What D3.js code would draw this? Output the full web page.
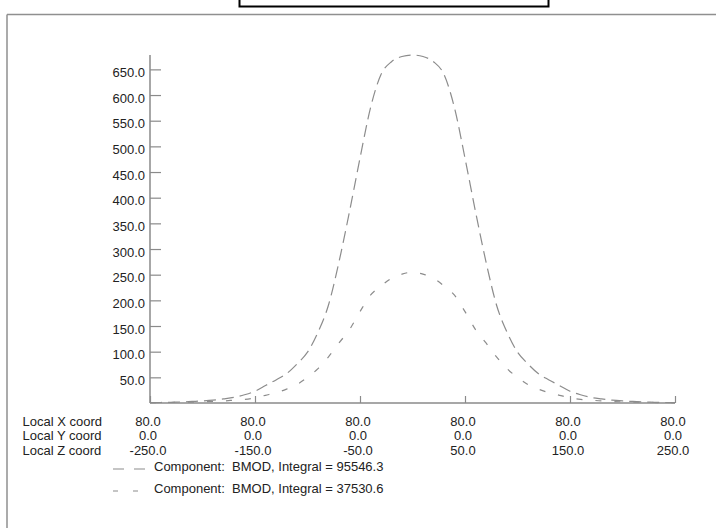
<!DOCTYPE html>
<html>
<head>
<meta charset="utf-8">
<script src="https://cdn.jsdelivr.net/npm/d3@7"></script>
<style>
  html, body { margin: 0; padding: 0; background: #fff; }
  svg { display: block; }
  text { font-family: "Liberation Sans", Arial, Helvetica, sans-serif; font-size: 13px; fill: #222; white-space: pre; }
</style>
</head>
<body>
<svg id="chart" width="716" height="528"></svg>
<script>
// ---- data ----
const zCoords = [-250,-240,-230,-220,-210,-200,-190,-180,-170,-160,-150,-140,-130,-120,-110,-100,-90,-80,-70,-60,-50,-40,-30,-20,-10,
                 0,10,20,30,40,50,60,70,80,90,100,110,120,130,140,150,160,170,180,190,200,210,220,230,240,250];
const seriesA = [0.8,1,1.5,2,3,4,5.5,8,11,16,23,34,45,57,76,99,138,191,275,373,477,575,640,665,675,
                 678,675,665,640,575,477,373,275,191,138,99,76,57,45,34,23,16,11,8,5.5,4,3,2,1.5,1,0.8];
const seriesB = [0.5,0.7,1,1.3,1.8,2.3,3,4,5.5,7,10,15,20,27,36,50,67,90,117,143,178,210,228,243,251,
                 255,251,243,228,210,178,143,117,90,67,50,36,27,20,15,10,7,5.5,4,3,2.3,1.8,1.3,1,0.7,0.5];
const seriesLabels = ["Component:  BMOD, Integral = 95546.3", "Component:  BMOD, Integral = 37530.6"];
const yTicks = [50,100,150,200,250,300,350,400,450,500,550,600,650];
const xTickZ = [-250,-150,-50,50,150,250];
const localX = ["80.0","80.0","80.0","80.0","80.0","80.0"];
const localY = ["0.0","0.0","0.0","0.0","0.0","0.0"];
const localZ = ["-250.0","-150.0","-50.0","50.0","150.0","250.0"];
const rowNames = ["Local X coord","Local Y coord","Local Z coord"];
const yMax = 678;

// ---- drawing ----
const svg = d3.select("#chart");
const axisColor = "#8a8a8a";
const curveColor = "#8c8c8c";

// outer frame
svg.append("line").attr("x1",7).attr("x2",716).attr("y1",14.5).attr("y2",14.5)
  .attr("stroke","#8f8f8f").attr("stroke-width",1.5);
svg.append("line").attr("x1",7).attr("x2",7).attr("y1",14.5).attr("y2",528)
  .attr("stroke","#8f8f8f").attr("stroke-width",1.5);
// title box (cut off at top)
svg.append("rect").attr("x",239.5).attr("y",-10).attr("width",309).attr("height",16.5)
  .attr("fill","#fff").attr("stroke","#000").attr("stroke-width",2);

const x = d3.scaleLinear().domain([-250,250]).range([150,675]);
const y = d3.scaleLinear().domain([0,yMax]).range([403,55]);

// y axis
const yAxis = d3.axisRight(y).tickValues(yTicks).tickSize(11).tickFormat("");
const gy = svg.append("g").attr("transform","translate(150,0)").call(yAxis);
gy.select(".domain").attr("stroke",axisColor).attr("stroke-width",1.5).attr("d", `M0,${y(yMax)}V${y(0)}`);
gy.selectAll(".tick line").attr("stroke",axisColor).attr("stroke-width",1.2);
svg.append("g").selectAll("text").data(yTicks).join("text")
  .attr("x",145).attr("y",d => y(d) + 7.5).attr("text-anchor","end")
  .text(d => d3.format(".1f")(d));

// x axis
const xAxis = d3.axisTop(x).tickValues(xTickZ).tickSize(7).tickFormat("");
const gx = svg.append("g").attr("transform","translate(0,403)").call(xAxis);
gx.select(".domain").attr("stroke",axisColor).attr("stroke-width",1.5).attr("d", `M${x(-250)},0H${x(250)}`);
gx.selectAll(".tick line").attr("stroke",axisColor).attr("stroke-width",1.2);

// x label rows
const rowBase = [426, 440, 455];
const rowVals = [localX, localY, localZ];
rowNames.forEach((nm,i) => {
  svg.append("text").attr("x",22.5).attr("y",rowBase[i]).text(nm);
  svg.append("g").selectAll("text").data(xTickZ).join("text")
    .attr("x",(d) => x(d) - 2).attr("y",rowBase[i]).attr("text-anchor","middle")
    .text((d,j) => rowVals[i][j]);
});

// curves
const line = d3.line().x((d,i) => x(zCoords[i])).y(d => y(d)).curve(d3.curveMonotoneX);
svg.append("path").datum(seriesA).attr("d",line).attr("fill","none")
  .attr("stroke",curveColor).attr("stroke-width",1.2).attr("stroke-dasharray","12,6");
svg.append("path").datum(seriesB).attr("d",line).attr("fill","none")
  .attr("stroke",curveColor).attr("stroke-width",1.2).attr("stroke-dasharray","6,13");

// legend
const legY = [470.5, 492.5];
const legDash = ["11,10","5,15"];
const legEnd = [145, 138];
seriesLabels.forEach((lab,i) => {
  svg.append("line").attr("x1",113).attr("x2",legEnd[i]).attr("y1",legY[i]-1.5).attr("y2",legY[i]-1.5)
    .attr("stroke",curveColor).attr("stroke-width",1.2).attr("stroke-dasharray",legDash[i]);
  svg.append("text").attr("x",154).attr("y",legY[i]).text(lab);
});
</script>
</body>
</html>
